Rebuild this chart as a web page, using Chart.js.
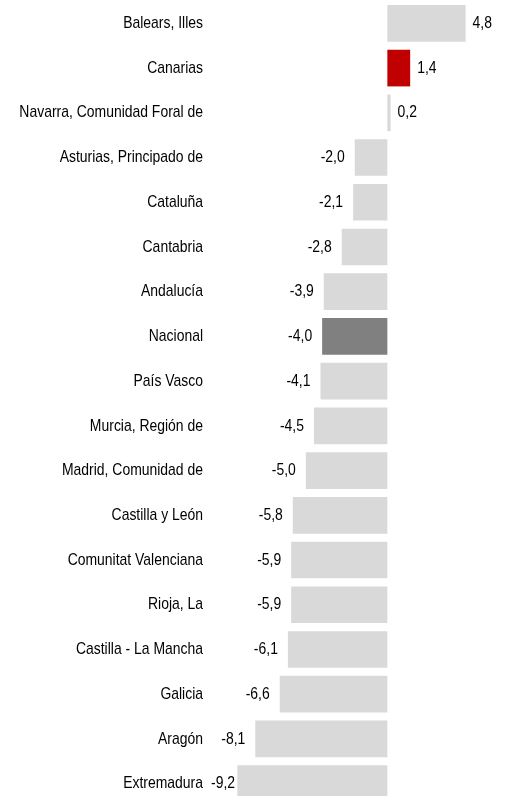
<!DOCTYPE html>
<html>
<head>
<meta charset="utf-8">
<script src="https://cdn.jsdelivr.net/npm/chart.js@4"></script>
<style>
  html, body { margin: 0; padding: 0; background: #fff; overflow: hidden; }
  #wrap { position: relative; width: 508px; height: 806px; }
</style>
</head>
<body>
<div id="wrap"><canvas id="myChart"></canvas></div>
<script>
const regions = ['Balears, Illes', 'Canarias', 'Navarra, Comunidad Foral de', 'Asturias, Principado de',
  'Cataluña', 'Cantabria', 'Andalucía', 'Nacional', 'País Vasco', 'Murcia, Región de',
  'Madrid, Comunidad de', 'Castilla y León', 'Comunitat Valenciana', 'Rioja, La',
  'Castilla - La Mancha', 'Galicia', 'Aragón', 'Extremadura'];
const values = [4.8, 1.4, 0.2, -2.0, -2.1, -2.8, -3.9, -4.0, -4.1, -4.5, -5.0, -5.8, -5.9, -5.9, -6.1, -6.6, -8.1, -9.2];

const FONT = "'Liberation Sans', Arial, sans-serif";
const NARROW = 0.82; // squeeze regular Liberation Sans to look like a narrow face

const barColors = regions.map(function (r) {
  if (r == 'Canarias') return '#c00000';
  if (r == 'Nacional') return '#808080';
  return '#d9d9d9';
});

function narrowText(ctx, txt, x, y, align) {
  ctx.save();
  ctx.translate(x, y);
  ctx.scale(NARROW, 1);
  ctx.textAlign = align;
  ctx.fillText(txt, 0, 0);
  ctx.restore();
}

// category names and value labels, drawn condensed
const textLayer = {
  id: 'textLayer',
  afterDatasetsDraw(chart) {
    const ctx = chart.ctx;
    const meta = chart.getDatasetMeta(0);
    const yScale = chart.scales.y;
    ctx.save();
    ctx.font = '17px ' + FONT;
    ctx.fillStyle = '#000';
    ctx.textBaseline = 'middle';
    regions.forEach(function (r, i) {
      narrowText(ctx, r, 203, yScale.getPixelForValue(i), 'right');
    });
    meta.data.forEach(function (bar, i) {
      const v = values[i];
      const txt = v.toFixed(1).replace('.', ',');
      if (v >= 0) {
        narrowText(ctx, txt, bar.x + 7, bar.y, 'left');
      } else {
        let x = bar.x - 10;
        const w = ctx.measureText(txt).width * NARROW;
        if (x - w < 211) x = Math.max(211 + w, bar.x - 3);
        narrowText(ctx, txt, x, bar.y, 'right');
      }
    });
    ctx.restore();
  }
};

new Chart(document.getElementById('myChart'), {
  type: 'bar',
  data: {
    labels: regions,
    datasets: [{
      data: values,
      backgroundColor: barColors,
      borderWidth: 0,
      categoryPercentage: 0.82,
      barPercentage: 1.0
    }]
  },
  plugins: [textLayer],
  options: {
    indexAxis: 'y',
    responsive: true,
    maintainAspectRatio: false,
    animation: false,
    layout: { padding: { top: 1, right: 0, bottom: 0, left: 0 } },
    plugins: {
      legend: { display: false },
      tooltip: { enabled: false }
    },
    scales: {
      x: {
        min: -11,
        max: 7.4,
        display: false,
        grid: { display: false }
      },
      y: {
        grid: { display: false, drawTicks: false },
        border: { display: false },
        afterFit: function (scale) {
          scale.width = 208;
          scale.paddingTop = 0;
          scale.paddingBottom = 0;
        },
        ticks: { display: false }
      }
    }
  }
});
</script>
</body>
</html>
